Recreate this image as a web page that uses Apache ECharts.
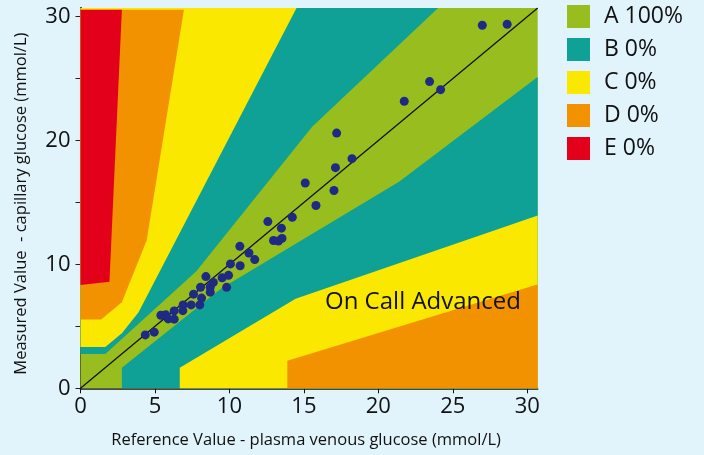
<!DOCTYPE html>
<html>
<head>
<meta charset="utf-8">
<script src="https://cdn.jsdelivr.net/npm/echarts@6/dist/echarts.min.js"></script>
<style>
  html, body { margin: 0; padding: 0; background: #e1f3fb; }
  #chart { width: 704px; height: 455px; }
</style>
</head>
<body>
<div id="chart"></div>
<script>
// Parkes (consensus) error grid, type 1 diabetes – zone boundaries in mg/dL
const abUpper = [[0, 50], [30, 50], [140, 170], [280, 380], [430, 550]];
const abLower = [[50, 0], [50, 30], [170, 145], [385, 300], [550, 450]];
const bcUpper = [[0, 60], [30, 60], [50, 80], [70, 110], [260, 550]];
const bcLower = [[120, 0], [120, 30], [260, 130], [550, 250]];
const cdUpper = [[0, 100], [25, 100], [50, 125], [80, 215], [125, 550]];
const cdLower = [[250, 0], [250, 40], [550, 150]];
const deUpper = [[0, 150], [35, 155], [50, 550]];

// Paired readings (mmol/L): reference plasma venous vs. capillary meter
const referenceValues = [
  4.35, 4.95, 5.40, 5.73, 5.89, 6.29, 6.29, 6.87, 6.89, 7.43,
  7.59, 8.01, 8.13, 8.06, 8.42, 8.71, 8.71, 8.92, 9.51, 9.81,
  9.94, 10.07, 10.72, 10.70, 11.31, 11.70, 12.58, 12.96, 13.29, 13.53,
  13.49, 14.22, 15.09, 15.81, 17.02, 17.12, 17.20, 18.23, 21.74, 23.44,
  24.18, 26.98, 28.65
];
const measuredValues = [
  4.31, 4.53, 5.90, 5.93, 5.60, 5.58, 6.25, 6.27, 6.73, 6.73,
  7.60, 6.73, 7.28, 8.16, 9.02, 8.16, 7.76, 8.55, 8.92, 8.15,
  9.12, 10.04, 9.89, 11.46, 10.92, 10.39, 13.46, 11.93, 11.89, 12.10,
  12.93, 13.81, 16.57, 14.76, 15.97, 17.81, 20.60, 18.54, 23.17, 24.76,
  24.11, 29.31, 29.39
];

const zoneNames = ['A 100%', 'B 0%', 'C 0%', 'D 0%', 'E 0%'];
const xTicks = [0, 5, 10, 15, 20, 25, 30];
const yTicks = [0, 5, 10, 15, 20, 25, 30];
const yLabels = [0, 10, 20, 30];

const MGDL_PER_MMOL = 18;
const XMAX = 30.7, YMAX = 30.7;
const GRID_TOP = 550 / MGDL_PER_MMOL;

const toMmol = pts => pts.map(p => [p[0] / MGDL_PER_MMOL, p[1] / MGDL_PER_MMOL]);

// continue the last boundary segment up to the top of the plot
function extendUp(pts) {
  const a = pts[pts.length - 2], b = pts[pts.length - 1];
  const x = b[0] + (YMAX - b[1]) * (b[0] - a[0]) / (b[1] - a[1]);
  return pts.concat([[x, YMAX]]);
}
// continue the last boundary segment out to the right edge
function extendRight(pts) {
  const a = pts[pts.length - 2], b = pts[pts.length - 1];
  const y = b[1] + (XMAX - b[0]) * (b[1] - a[1]) / (b[0] - a[0]);
  return pts.concat([[XMAX, y]]);
}

const zonePolygons = [
  [[[0, 0], [XMAX, 0], [XMAX, YMAX], [0, YMAX]]],
  [extendUp(toMmol(abUpper)).concat([[0, YMAX]]),
   extendRight(toMmol(abLower)).concat([[XMAX, 0]])],
  [extendUp(toMmol(bcUpper)).concat([[0, YMAX]]),
   extendRight(toMmol(bcLower)).concat([[XMAX, 0]])],
  [toMmol(cdUpper).concat([[0, GRID_TOP]]),
   extendRight(toMmol(cdLower)).concat([[XMAX, 0]])],
  [toMmol(deUpper).concat([[0, GRID_TOP]])]
];
const zoneColors = ['#97be1e', '#0fa195', '#fbe800', '#f29200', '#e2001a'];

const FONT = 'Open Sans';

const zoneSeries = zoneNames.map((name, i) => ({
  name: name,
  type: 'custom',
  silent: true,
  itemStyle: { color: zoneColors[i] },
  data: zonePolygons[i].map(poly => poly[0]),
  renderItem: function (params, api) {
    const poly = zonePolygons[i][params.dataIndex];
    return {
      type: 'polygon',
      shape: { points: poly.map(p => api.coord(p)) },
      style: { fill: zoneColors[i], stroke: null }
    };
  },
  z: 1 + i
}));

const chart = echarts.init(document.getElementById('chart'), null, { renderer: 'canvas' });
chart.setOption({
  backgroundColor: '#e1f3fb',
  animation: false,
  textStyle: { fontFamily: FONT },
  grid: { left: 80.5, right: 166.3, top: 8, bottom: 66.7 },
  legend: {
    data: zoneNames,
    orient: 'vertical',
    left: 567,
    top: 5,
    padding: 0,
    icon: 'rect',
    itemWidth: 23,
    itemHeight: 23,
    itemGap: 10,
    selectedMode: false,
    textStyle: { fontFamily: FONT, fontSize: 23, color: '#111', padding: [0, 0, 0, 9] }
  },
  xAxis: {
    type: 'value',
    min: 0,
    max: XMAX,
    name: 'Reference Value - plasma venous glucose (mmol/L)',
    nameLocation: 'middle',
    nameGap: 43,
    nameTextStyle: { fontFamily: FONT, fontSize: 16.5, color: '#111', padding: [0, 6, 0, 0] },
    axisLine: { onZero: false, lineStyle: { color: '#111', width: 1.5 } },
    axisTick: { customValues: xTicks, length: 5, lineStyle: { color: '#111' } },
    axisLabel: { customValues: xTicks, fontFamily: FONT, fontSize: 22, color: '#111', margin: 7 },
    splitLine: { show: false }
  },
  yAxis: {
    type: 'value',
    min: 0,
    max: YMAX,
    name: 'Measured Value  - capillary glucose (mmol/L)',
    nameLocation: 'middle',
    nameGap: 51,
    nameTextStyle: { fontFamily: FONT, fontSize: 16.5, color: '#111', padding: [0, 11, 0, 0] },
    axisLine: { onZero: false, lineStyle: { color: '#2a1d14', width: 2 } },
    axisTick: { customValues: yTicks, length: 5, lineStyle: { color: '#2a1d14' } },
    axisLabel: { customValues: yLabels, fontFamily: FONT, fontSize: 22, color: '#111', margin: 10 },
    splitLine: { show: false }
  },
  graphic: [{
    type: 'text',
    left: 325,
    top: 290,
    silent: true,
    style: { text: 'On Call Advanced', fontFamily: FONT, fontSize: 24, fill: '#111' },
    z: 20
  }],
  series: zoneSeries.concat([
    {
      name: 'identity',
      type: 'line',
      silent: true,
      symbol: 'none',
      data: [[0, 0], [XMAX, YMAX]],
      lineStyle: { color: '#111', width: 1.3 },
      z: 10
    },
    {
      name: 'readings',
      type: 'scatter',
      silent: true,
      symbolSize: 9,
      itemStyle: { color: '#1e2a84', opacity: 1 },
      data: referenceValues.map((x, i) => [x, measuredValues[i]]),
      z: 11
    }
  ])
});
</script>
</body>
</html>
